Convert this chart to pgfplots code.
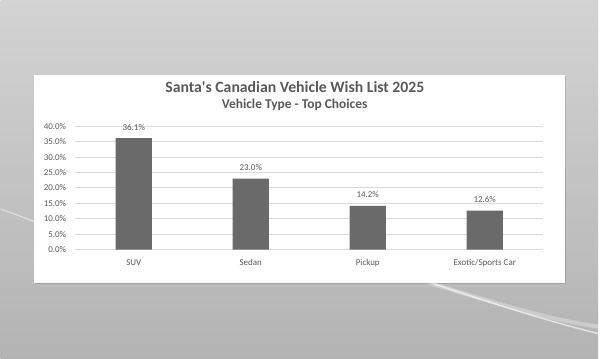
\documentclass[border=0pt]{standalone}
\usepackage{fontspec}
\setmainfont{Carlito}[Ligatures=TeXOff]
\usepackage{pgfplots}
\pgfplotsset{compat=1.18}
\definecolor{txt}{HTML}{595959}
\definecolor{barc}{HTML}{6A6A6A}
\definecolor{gridc}{HTML}{D9D9D9}
\pgfdeclarefunctionalshading{bgshade}{\pgfpoint{-50bp}{-50bp}}{\pgfpoint{50bp}{50bp}}{}{
  50 sub neg 100 div
  exch 50 add 100 div
  0.93 sub 0.07 div dup 0 lt {pop 0} if dup mul 0.24 mul
  exch 0.25 mul add
  0.89 exch sub
  dup dup
}
\begin{document}
\begin{tikzpicture}[x=1pt,y=1pt]
% background
\shade[shading=bgshade] (0,0) rectangle (600,360);
\draw[white, opacity=0.5, line width=1.2] (0,150) .. controls (30,140) and (60,125) .. (120,110);
\draw[white, opacity=0.6, line width=1.5] (420,80) .. controls (480,60) and (540,40) .. (600,25);
\draw[white, opacity=0.3, line width=4] (430,76) .. controls (490,58) and (545,40) .. (600,32);
% shadow + panel
\fill[black, opacity=0.12] (34.5,74.3) rectangle (568,283.5);
\fill[white] (33.3,76) rectangle (566.7,285);
% titles
\node[anchor=base, text=txt, font=\fontsize{15.8}{18}\selectfont\bfseries, inner sep=0] at (295.5,266.7) {Santa's Canadian Vehicle Wish List 2025};
\node[anchor=base, text=txt, font=\fontsize{13.5}{15}\selectfont\bfseries, inner sep=0] at (295.3,250.7) {Vehicle Type - Top Choices};
\begin{axis}[
  at={(75pt,109.3pt)}, anchor=south west,
  width=470pt, height=124pt, scale only axis,
  xmin=-0.5, xmax=3.5, ymin=0, ymax=40,
  ybar, bar width=36.3pt,
  axis line style={draw=none},
  ymajorgrids, xmajorgrids=false, grid style={draw=gridc, line width=1pt},
  ytick={0,5,...,40},
  xtick={0,1,2,3},
  xticklabels={SUV,Sedan,Pickup,Exotic/Sports Car},
  major tick length=0pt,
  /pgf/number format/assume math mode=true,
  yticklabel={\pgfmathprintnumber[fixed,fixed zerofill,precision=1]{\tick}\%},
  yticklabel style={text=txt, font=\fontsize{9}{10}\selectfont, anchor=east, inner sep=0pt, xshift=-9pt},
  xticklabel style={text=txt, font=\fontsize{9}{10}\selectfont, anchor=base, inner sep=0pt, yshift=-16pt},
  nodes near coords={\pgfmathprintnumber[fixed,fixed zerofill,precision=1]{\pgfplotspointmeta}\%},
  nodes near coords style={text=txt, font=\fontsize{9}{10}\selectfont, anchor=base, inner sep=0pt, yshift=8pt},
  clip=false,
]
\addplot[fill=barc, draw=none] coordinates {(0,36.1) (1,23.0) (2,14.2) (3,12.6)};
\end{axis}
\useasboundingbox (0,0) rectangle (600,360);
\end{tikzpicture}
\end{document}
